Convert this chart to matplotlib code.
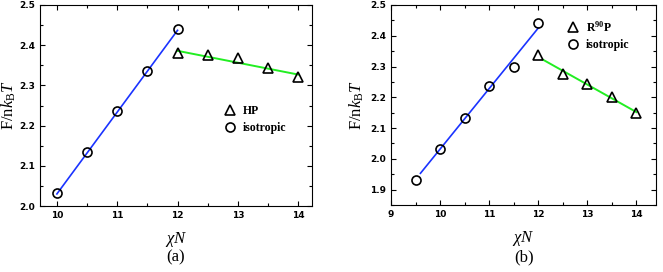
"""
Free energy vs chi N, two panels (a) HP and (b) R90P.
"""
import numpy as np
import matplotlib.pyplot as plt
from matplotlib.ticker import MultipleLocator

# Panel (a) data
a_iso_x = [10, 10.5, 11, 11.5, 12]
a_iso_y = [2.032, 2.134, 2.236, 2.337, 2.440]
a_hp_x = [12, 12.5, 13, 13.5, 14]
a_hp_y = [2.380, 2.376, 2.369, 2.344, 2.320]
a_blue_x = [10, 12]
a_blue_y = [2.030, 2.437]
a_green_x = [12, 14]
a_green_y = [2.386, 2.327]

# Panel (b) data
b_iso_x = [9.5, 10, 10.5, 11, 11.5, 12]
b_iso_y = [1.930, 2.033, 2.134, 2.236, 2.298, 2.440]
b_rp_x = [12, 12.5, 13, 13.5, 14]
b_rp_y = [2.336, 2.275, 2.242, 2.200, 2.150]
b_blue_x = [9.6, 12]
b_blue_y = [1.953, 2.425]
b_green_x = [12.1, 14]
b_green_y = [2.322, 2.152]

plt.rcParams["font.family"] = "DejaVu Sans"
plt.rcParams["font.weight"] = "bold"
plt.rcParams["mathtext.fontset"] = "custom"
plt.rcParams["mathtext.rm"] = "Liberation Serif:normal"
plt.rcParams["mathtext.it"] = "Liberation Serif:italic:normal"
plt.rcParams["mathtext.bf"] = "Liberation Serif:bold"

fig = plt.figure(figsize=(6.63, 2.72), dpi=100)
W, H = 663, 272


def make_axes(l, r, t, b):
    return fig.add_axes([l / W, 1 - b / H, (r - l) / W, (b - t) / H])


def style_axes(ax, lab_x):
    ax.tick_params(which="both", direction="in", top=True, right=True,
                   labelsize=6.5, width=0.8)
    ax.tick_params(which="major", length=3.5)
    ax.tick_params(which="minor", length=2)
    for s in ax.spines.values():
        s.set_linewidth(0.8)
    ax.set_ylabel(r"F/n$k_{\mathrm{B}}T$", family="Liberation Serif",
                  fontsize=12, weight="normal")
    ax.yaxis.set_label_coords(lab_x, 0.5)
    ax.set_xlabel(r"$\chi N$", fontsize=12, labelpad=7, weight="normal")


mk = dict(linestyle="none", mfc="none", mec="black", mew=1.2, markersize=6.5)
leg = dict(frameon=False, prop={"family": "Liberation Serif",
                                "weight": "bold", "size": 8.5},
           handletextpad=0.6, labelspacing=0.35, handlelength=1.0,
           borderpad=0, borderaxespad=0, loc="upper left")

# Panel (a)
ax1 = make_axes(40, 312, 5, 206)
ax1.plot(a_blue_x, a_blue_y, color="#1a33ff", lw=1.2)
ax1.plot(a_green_x, a_green_y, color="#22ee22", lw=1.4)
ax1.plot(a_hp_x, a_hp_y, marker="^", label="HP", **mk)
ax1.plot(a_iso_x, a_iso_y, marker="o", label="isotropic", **mk)
ax1.set_xlim(9.72, 14.23)
ax1.set_ylim(2.0, 2.5)
ax1.xaxis.set_major_locator(MultipleLocator(1))
ax1.xaxis.set_minor_locator(MultipleLocator(0.5))
ax1.yaxis.set_major_locator(MultipleLocator(0.1))
ax1.yaxis.set_minor_locator(MultipleLocator(0.05))
ax1.yaxis.set_major_formatter(plt.FormatStrFormatter("%.1f"))
style_axes(ax1, -22 / 272)
ax1.legend(bbox_to_anchor=(0.676, 0.50), **leg)
fig.text(176 / W, 1 - 257 / H, "(a)", ha="center", va="center",
         family="Liberation Serif", fontsize=12, weight="normal")

# Panel (b)
ax2 = make_axes(391, 656, 5, 205)
ax2.plot(b_blue_x, b_blue_y, color="#1a33ff", lw=1.2)
ax2.plot(b_green_x, b_green_y, color="#22ee22", lw=1.4)
ax2.plot(b_rp_x, b_rp_y, marker="^", label=r"R$^{\mathbf{90}}$P", **mk)
ax2.plot(b_iso_x, b_iso_y, marker="o", label="isotropic", **mk)
ax2.set_xlim(9, 14.4)
ax2.set_ylim(1.85, 2.5)
ax2.xaxis.set_major_locator(MultipleLocator(1))
ax2.xaxis.set_minor_locator(MultipleLocator(0.5))
ax2.yaxis.set_major_locator(MultipleLocator(0.1))
ax2.yaxis.set_minor_locator(MultipleLocator(0.05))
ax2.yaxis.set_major_formatter(plt.FormatStrFormatter("%.1f"))
style_axes(ax2, -25 / 265)
ax2.legend(bbox_to_anchor=(0.664, 0.925), **leg)
fig.text(524 / W, 1 - 257 / H, "(b)", ha="center", va="center",
         family="Liberation Serif", fontsize=12, weight="normal")

fig.savefig("out.png", dpi=100)
